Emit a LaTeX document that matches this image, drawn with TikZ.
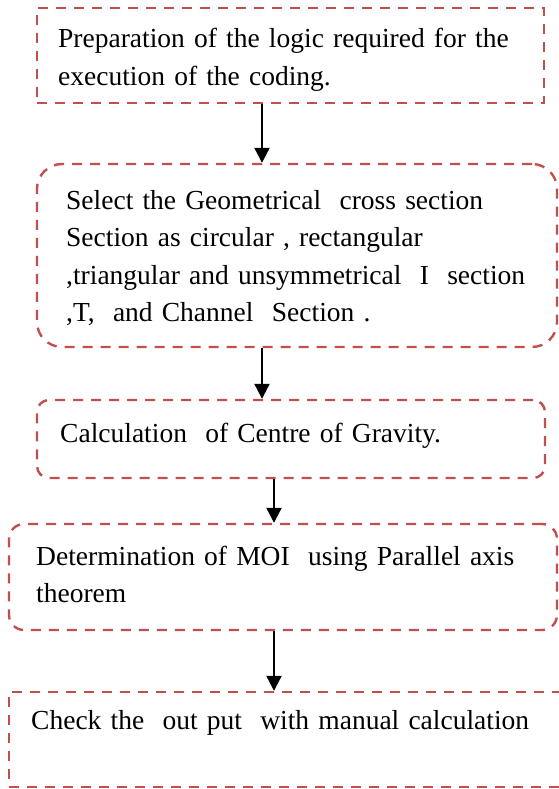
\documentclass[tikz,border=0pt]{standalone}
\usepackage{fontspec}
\setmainfont{Liberation Serif}
\usepackage{xcolor}
\usetikzlibrary{arrows.meta}

\definecolor{boxred}{RGB}{192,80,77}

\tikzset{
    stepbox/.style={draw = boxred, line width = 2.4pt, dash pattern = on 10pt off 8pt,
        inner sep = 0pt, rectangle},
    steptext/.style={anchor = base west, inner sep = 0pt, text width = 520pt, align = left,
        font = \fontsize{27.5}{37.5}\selectfont},
    flow/.style={line width = 2.2pt, -{Triangle[width = 15pt, length = 15pt]}}
}

\begin{document}
\begin{tikzpicture}[x = 1pt, y = -1pt]
        \useasboundingbox (0, 0) rectangle (558, 789);

        % boxes
        \node (prep) [stepbox, minimum width = 507pt, minimum height = 95pt] at (290.5, 55.5) {};
        \node (select) [stepbox, rounded corners = 25pt, minimum width = 520pt, minimum height = 183pt] at (297, 255.5) {};
        \node (cg) [stepbox, rounded corners = 12pt, minimum width = 508pt, minimum height = 78pt] at (291, 439) {};
        \node (moi) [stepbox, rounded corners = 15pt, minimum width = 548pt, minimum height = 106pt] at (283, 577) {};
        \node (check) [stepbox, minimum width = 553pt, minimum height = 95pt] at (285.5, 739.5) {};

        % texts
        \node (prep text) [steptext] at (58, 48)
            {Preparation of the logic required for the\\execution of the coding.};
        \node (select text) [steptext] at (66, 209)
            {Select the Geometrical\ \ cross section\\
             Section as circular , rectangular\\
             ,triangular and unsymmetrical\ \ I\ \ section\\
             ,T,\ \ and Channel\ \ Section .};
        \node (cg text) [steptext] at (60, 442) {Calculation\ \ of Centre of Gravity.};
        \node (moi text) [steptext] at (36, 565)
            {Determination of MOI\ \ using Parallel axis\\theorem};
        \node (check text) [steptext] at (31, 729) {Check the\ \ out put\ \ with manual calculation};

        % arrows
        \coordinate (left line) at (262, 0);
        \coordinate (right line) at (274, 0);
        \draw [flow] (prep.south -| left line) -- (select.north -| left line);
        \draw [flow] (select.south -| left line) -- (cg.north -| left line);
        \draw [flow] (cg.south -| right line) -- (moi.north -| right line);
        \draw [flow] (moi.south -| right line) -- (check.north -| right line);
    \end{tikzpicture}
\end{document}
